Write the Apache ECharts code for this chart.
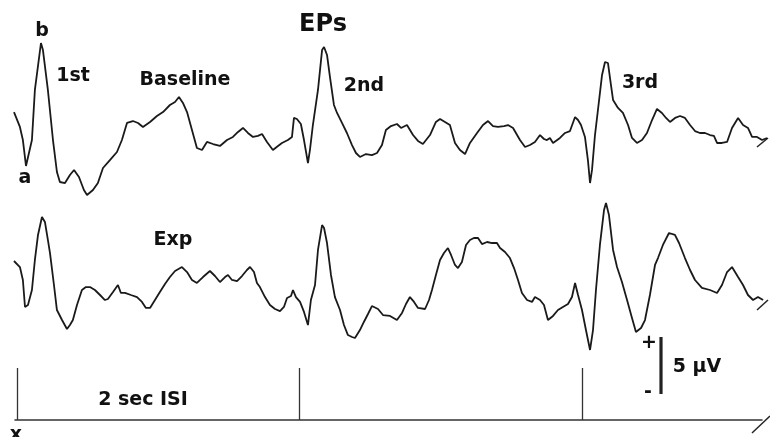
<!DOCTYPE html>
<html><head><meta charset="utf-8">
<script src="https://cdn.jsdelivr.net/npm/echarts@6/dist/echarts.min.js"></script>
<style>html,body{margin:0;padding:0;background:#fff}#c{width:770px;height:437px}</style>
</head><body><div id="c"></div>
<script>
// Time (ms after first stimulus) and amplitude (µV)
const baselineTime = [-21,21,42,64,106,127,170,184,219,255,283,304,340,375,404,439,474,496,538,573,609,658,708,743,779,821,857,892,942,991,1034,1083,1119,1147,1175,1204,1239,1274,1310,1345,1388,1437,1487,1529,1565,1600,1635,1671,1706,1735,1770,1812,1848,1876,1918,1947,1961,1982,2010,2032,2060,2074,2095,2131,2160,2174,2195,2216,2244,2266,2301,2336,2372,2400,2428,2471,2513,2549,2584,2612,2648,2690,2719,2761,2804,2839,2874,2924,2966,2995,3030,3065,3101,3136,3172,3207,3257,3299,3335,3370,3405,3448,3476,3512,3561,3597,3632,3667,3703,3731,3752,3773,3795,3844,3880,3915,3951,3972,3993,4021,4042,4057,4071,4092,4113,4142,4163,4184,4205,4220,4255,4290,4326,4354,4389,4425,4460,4496,4531,4566,4595,4623,4659,4694,4729,4765,4800,4835,4871,4906,4934,4956,4991,5027,5062,5105,5140,5175,5204,5239,5275,5310];
const baselineUV = [-0.18,-1.49,-2.64,-4.92,-2.64,1.76,5.89,5.27,1.76,-2.64,-5.45,-6.33,-6.42,-5.71,-5.27,-5.89,-7.03,-7.47,-7.03,-6.42,-5.10,-4.40,-3.69,-2.64,-1.14,-0.97,-1.14,-1.49,-1.05,-0.53,-0.18,0.44,0.70,1.14,0.62,-0.18,-1.76,-3.34,-3.52,-2.81,-2.99,-3.16,-2.64,-2.37,-1.93,-1.58,-2.02,-2.37,-2.28,-2.11,-2.81,-3.52,-3.16,-2.90,-2.64,-2.37,-0.70,-0.79,-1.23,-2.64,-4.66,-3.52,-1.32,1.76,5.27,5.54,4.84,2.90,0.44,-0.26,-1.14,-2.02,-3.08,-3.78,-4.13,-3.87,-3.96,-3.78,-3.08,-1.76,-1.41,-1.23,-1.58,-1.32,-2.20,-2.72,-2.99,-2.20,-1.05,-0.79,-1.05,-1.32,-2.90,-3.52,-3.87,-2.90,-2.02,-1.32,-0.97,-1.41,-1.49,-1.41,-1.32,-1.58,-2.64,-3.25,-3.08,-2.81,-2.20,-2.55,-2.64,-2.46,-2.90,-2.46,-2.02,-1.85,-0.62,-0.88,-1.32,-2.37,-4.40,-6.42,-5.27,-2.20,0.00,3.08,4.22,4.13,2.20,0.88,0.18,-0.26,-1.32,-2.46,-2.90,-2.64,-2.02,-0.88,0.09,-0.26,-0.70,-1.05,-0.70,-0.53,-0.70,-1.32,-1.85,-2.02,-2.02,-2.20,-2.28,-2.90,-2.90,-2.81,-1.58,-0.70,-1.32,-1.58,-2.37,-2.37,-2.64,-2.46];
const expTime = [-21,21,42,57,78,106,127,149,177,198,219,234,262,283,319,354,375,396,425,460,488,517,552,588,623,644,680,715,736,765,807,850,885,913,942,977,1012,1048,1083,1119,1168,1204,1239,1274,1317,1366,1402,1437,1473,1494,1522,1558,1593,1628,1650,1678,1699,1720,1756,1791,1827,1862,1890,1912,1940,1954,1975,2004,2032,2060,2081,2110,2131,2160,2174,2195,2223,2251,2287,2315,2343,2372,2393,2428,2456,2485,2513,2556,2591,2641,2690,2726,2754,2782,2811,2839,2889,2917,2938,2966,2995,3023,3051,3073,3101,3122,3150,3179,3207,3235,3264,3292,3328,3363,3398,3420,3455,3490,3519,3547,3575,3611,3646,3667,3703,3731,3759,3795,3830,3865,3901,3929,3951,3972,4000,4028,4057,4078,4099,4127,4156,4170,4191,4220,4248,4283,4319,4354,4382,4418,4446,4481,4517,4538,4573,4616,4658,4687,4729,4765,4800,4849,4906,4956,4991,5027,5062,5105,5140,5175,5211,5246,5282];
const expUV = [2.55,2.02,0.88,-1.49,-1.32,0.00,2.64,4.84,6.42,5.98,4.40,3.25,0.44,-1.76,-2.64,-3.43,-3.08,-2.64,-1.32,0.00,0.26,0.26,0.00,-0.44,-0.88,-0.79,-0.18,0.44,-0.26,-0.26,-0.44,-0.62,-1.05,-1.58,-1.58,-0.88,-0.18,0.53,1.14,1.67,2.02,1.58,0.88,0.62,1.14,1.67,1.23,0.70,1.14,1.32,0.88,0.79,1.23,1.76,2.02,1.58,0.62,0.26,-0.62,-1.32,-1.67,-1.85,-1.49,-0.70,-0.53,0.00,-0.62,-1.05,-1.93,-3.08,-0.88,0.44,3.52,5.71,5.45,4.13,1.32,-0.62,-1.76,-3.08,-3.96,-4.13,-4.22,-3.52,-2.81,-2.11,-1.41,-1.67,-2.20,-2.28,-2.64,-2.02,-1.23,-0.62,-1.05,-1.58,-1.67,-0.88,0.00,1.32,2.64,3.25,3.69,3.08,2.20,1.93,2.46,3.96,4.40,4.57,4.57,4.04,4.22,4.13,4.13,3.69,3.34,2.81,1.93,0.88,-0.26,-0.88,-1.05,-0.62,-0.88,-1.32,-2.64,-2.28,-1.76,-1.49,-1.23,-0.62,0.62,-0.44,-1.76,-3.52,-5.27,-3.52,0.00,3.96,7.03,7.65,6.59,3.52,2.02,0.70,-0.88,-2.46,-3.69,-3.34,-2.64,-0.44,2.20,2.81,3.96,5.01,4.84,4.13,2.81,1.76,0.88,0.18,0.00,-0.26,0.44,1.58,2.02,1.14,0.44,-0.44,-0.88,-0.62,-0.88];
const stimulusTimes = [0, 2000, 4000];
const traceLabels = ['Baseline', 'Exp'];
const epLabels = ['1st', '2nd', '3rd'];

const zip = (t, v) => t.map((x, i) => [x, v[i]]);
const font = '"DejaVu Sans", sans-serif';
const txt = (text, x, y, size) => ({type:'text', x, y, silent:true,
  style:{text, fill:'#111', font:'bold ' + (size||19) + 'px ' + font, textAlign:'center', textVerticalAlign:'middle'}});
const seg = (x1,y1,x2,y2,w) => ({type:'line', silent:true, shape:{x1,y1,x2,y2}, style:{stroke:'#222', lineWidth:w||1.5}});

const chart = echarts.init(document.getElementById('c'), null, {renderer:'canvas'});
const hiddenX = (gi, min, max, showLine) => ({type:'value', gridIndex:gi, min, max,
  axisLine:{show:!!showLine, onZero:false, lineStyle:{color:'#333', width:1.5}}, axisTick:{show:false}, axisLabel:{show:false}, splitLine:{show:false}});
const hiddenY = (gi) => ({type:'value', gridIndex:gi, min:-8, max:8,
  axisLine:{show:false}, axisTick:{show:false}, axisLabel:{show:false}, splitLine:{show:false}});
const lineS = {color:'#1a1a1a', width:1.8};

chart.setOption({
  animation:false,
  backgroundColor:'#fff',
  grid:[
    {left:0, width:770, top:19, height:182},
    {left:0, width:770, top:199, height:182},
    {left:15, width:747, top:368, height:52}
  ],
  xAxis:[hiddenX(0,-120,5331), hiddenX(1,-120,5331), hiddenX(2,-14,5274,true)],
  yAxis:[hiddenY(0), hiddenY(1), {type:'value', gridIndex:2, min:0, max:1, show:false}],
  series:[
    {name:traceLabels[0], type:'line', xAxisIndex:0, yAxisIndex:0, data:zip(baselineTime, baselineUV), showSymbol:false, lineStyle:lineS, clip:false},
    {name:traceLabels[1], type:'line', xAxisIndex:1, yAxisIndex:1, data:zip(expTime, expUV), showSymbol:false, lineStyle:lineS, clip:false},
    {name:'ISI', type:'line', xAxisIndex:2, yAxisIndex:2, data:[], 
      markLine:{silent:true, symbol:'none', label:{show:false}, lineStyle:{color:'#333', width:1.3, type:'solid'},
        data: stimulusTimes.map(t => ({xAxis:t}))}}
  ],
  graphic:[
    txt('EPs', 323, 25, 24),
    txt('b', 42, 31), txt('a', 25, 178),
    txt(epLabels[0], 73, 76), txt(traceLabels[0], 185, 80),
    txt(epLabels[1], 364, 86), txt(epLabels[2], 640, 83),
    txt(traceLabels[1], 173, 240),
    txt('2 sec ISI', 143, 400),
    txt('5 µV', 697, 367),
    txt('+', 649, 343), txt('-', 648, 392),
    txt('x', 16, 435),
    seg(661, 337, 661, 394, 3.2),
    seg(752, 433, 770, 416),
    seg(757, 147, 768, 138),
    seg(757, 310, 768, 300)
  ]
});
</script></body></html>
